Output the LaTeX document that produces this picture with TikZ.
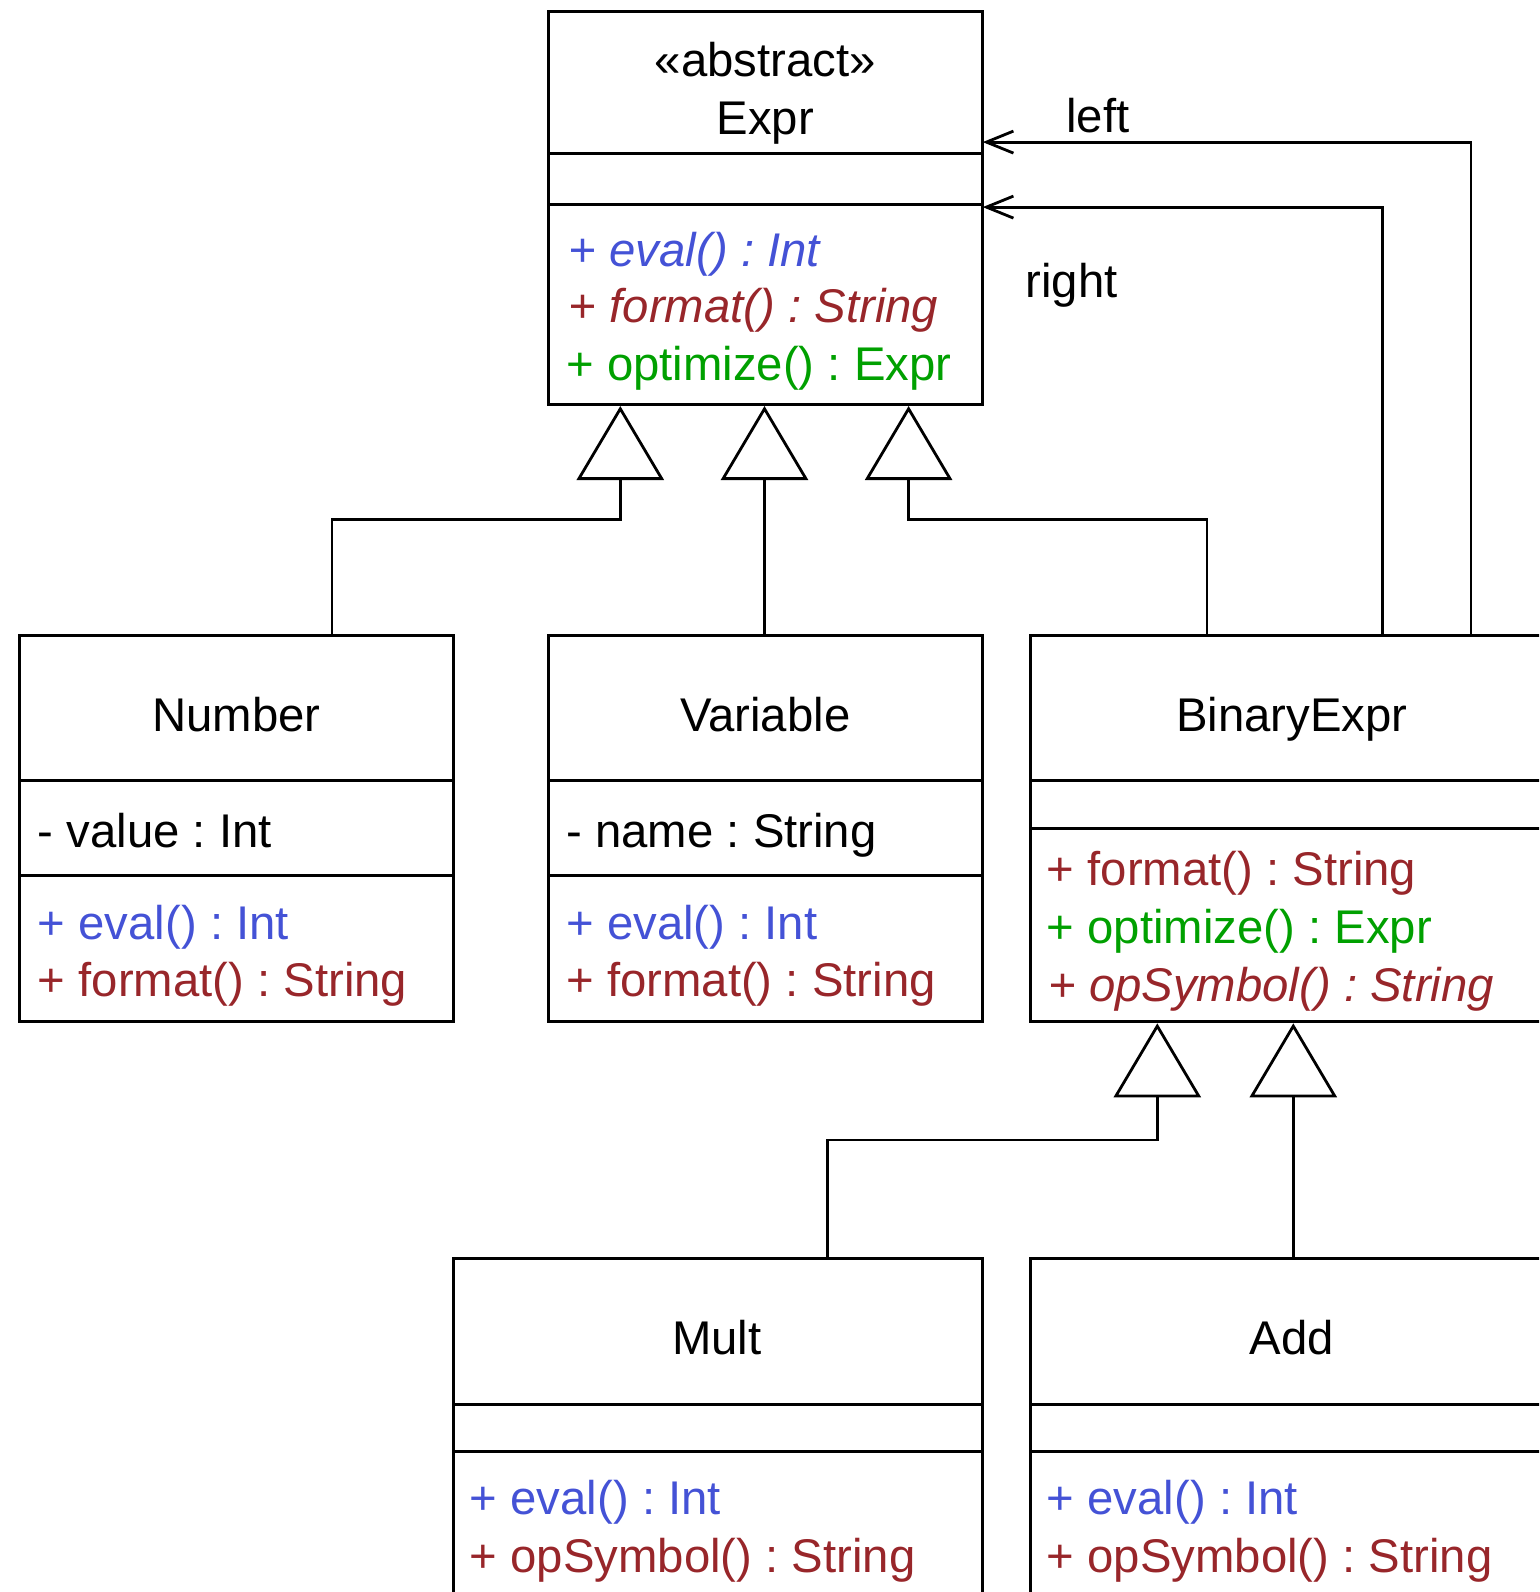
\documentclass[tikz,border=0pt]{standalone}
\usepackage{fontspec}
\setmainfont{Liberation Sans}
\usetikzlibrary{arrows.meta}
\definecolor{mblue}{RGB}{68,82,214}
\definecolor{mred}{RGB}{152,38,42}
\definecolor{mgreen}{RGB}{0,160,0}
\begin{document}
\frenchspacing
\begin{tikzpicture}[x=0.5pt,y=-0.5pt,
  every node/.style={font=\fontsize{23.65pt}{29pt}\selectfont\frenchspacing},
  cls/.style={draw, line width=1.5pt, rectangle, inner sep=0pt, outer sep=0pt, anchor=north west},
  sep/.style={line width=1.5pt},
  txt/.style={inner sep=0pt, anchor=base west},
  ttl/.style={inner sep=0pt, anchor=base},
  gen/.style={line width=1.4pt, -{Triangle[open, length=37pt, width=43.5pt, line width=1.4pt]}},
  assoc/.style={line width=1.4pt, -{Straight Barb[length=13.5pt, width=11pt, line width=1.4pt]}},
]
\useasboundingbox (0,0) rectangle (1539,1592);
\clip (0,0) rectangle (1539,1592);

% ---- Expr
\node[cls, minimum width=217.25pt, minimum height=196.4pt] (expr) at (548.2,11.2) {};
\draw[sep] (548.2,153.3) -- (982.7,153.3);
\draw[sep] (548.2,204) -- (982.7,204);
\node[ttl] (exprst) at (765.4,76.1) {«abstract»};
\node[ttl] (exprnm) at (765.4,134) {Expr};
\node[txt, text=mblue] (expr1) at (568.5,266) {\itshape + eval() : Int};
\node[txt, text=mred] (expr2) at (568.5,322.8) {\itshape + format() : String};
\node[txt, text=mgreen] (expr3) at (566,380.7) {+ optimize() : Expr};

% ---- Number
\node[cls, minimum width=217.25pt, minimum height=192.9pt] (number) at (19.3,635.5) {};
\draw[sep] (19.3,780.7) -- (453.8,780.7);
\draw[sep] (19.3,875.1) -- (453.8,875.1);
\node[ttl] (numnm) at (236.5,731) {Number};
\node[txt] (numa) at (37.5,847.7) {- value : Int};
\node[txt, text=mblue] (num1) at (37.5,939) {+ eval() : Int};
\node[txt, text=mred] (num2) at (37.5,996.9) {+ format() : String};

% ---- Variable
\node[cls, minimum width=217.25pt, minimum height=192.9pt] (variable) at (548.2,635.5) {};
\draw[sep] (548.2,780.7) -- (982.7,780.7);
\draw[sep] (548.2,875.1) -- (982.7,875.1);
\node[ttl] (varnm) at (765.4,731) {Variable};
\node[txt] (vara) at (566,847.7) {- name : String};
\node[txt, text=mblue] (var1) at (566,939) {+ eval() : Int};
\node[txt, text=mred] (var2) at (566,996.9) {+ format() : String};

% ---- BinaryExpr
\node[cls, minimum width=264.8pt, minimum height=192.9pt] (binexpr) at (1030.4,635.5) {};
\draw[sep] (1030.4,780.7) -- (1560,780.7);
\draw[sep] (1030.4,828.4) -- (1560,828.4);
\node[ttl] (binnm) at (1292,731) {BinaryExpr};
\node[txt, text=mred] (bin1) at (1046.5,885.2) {+ format() : String};
\node[txt, text=mgreen] (bin2) at (1046.5,943.1) {+ optimize() : Expr};
\node[txt, text=mred] (bin3) at (1048,1001) {\itshape + opSymbol() : String};

% ---- Mult
\node[cls, minimum width=264.45pt, minimum height=180pt] (mult) at (453.8,1258.8) {};
\draw[sep] (453.8,1404) -- (982.7,1404);
\draw[sep] (453.8,1451.7) -- (982.7,1451.7);
\node[ttl] (multnm) at (716.7,1354.2) {Mult};
\node[txt, text=mblue] (mult1) at (469.5,1514.6) {+ eval() : Int};
\node[txt, text=mred] (mult2) at (469.5,1572.5) {+ opSymbol() : String};

% ---- Add
\node[cls, minimum width=264.8pt, minimum height=180pt] (add) at (1030.4,1258.8) {};
\draw[sep] (1030.4,1404) -- (1560,1404);
\draw[sep] (1030.4,1451.7) -- (1560,1451.7);
\node[ttl] (addnm) at (1292,1354.2) {Add};
\node[txt, text=mblue] (add1) at (1046.5,1514.6) {+ eval() : Int};
\node[txt, text=mred] (add2) at (1046.5,1572.5) {+ opSymbol() : String};

% ---- generalization connectors
\coordinate (aN) at (620.3,406);
\coordinate (aV) at (764.5,406);
\coordinate (aB) at (908.6,406);
\coordinate (jN) at (332,519.8);
\coordinate (jB) at (1207,519.8);
\draw[gen] (jN |- number.north) -- (jN) -| (aN);
\draw[gen] (aV |- variable.north) -- (aV);
\draw[gen] (jB |- binexpr.north) -- (jB) -| (aB);

\coordinate (aM) at (1157.3,1023.3);
\coordinate (aA) at (1293.3,1023.3);
\coordinate (jM) at (827.4,1140);
\draw[gen] (jM |- mult.north) -- (jM) -| (aM);
\draw[gen] (aA |- add.north) -- (aA);

% ---- associations
\coordinate (lft) at (1471,142.1);
\coordinate (rgt) at (1382.7,207.1);
\draw[assoc] (lft |- binexpr.north) -- (lft) -- (lft -| expr.east);
\draw[assoc] (rgt |- binexpr.north) -- (rgt) -- (rgt -| expr.east);
\node[txt] (lbll) at (1066,132) {left};
\node[txt] (lblr) at (1025.3,297.4) {right};
\end{tikzpicture}
\end{document}
